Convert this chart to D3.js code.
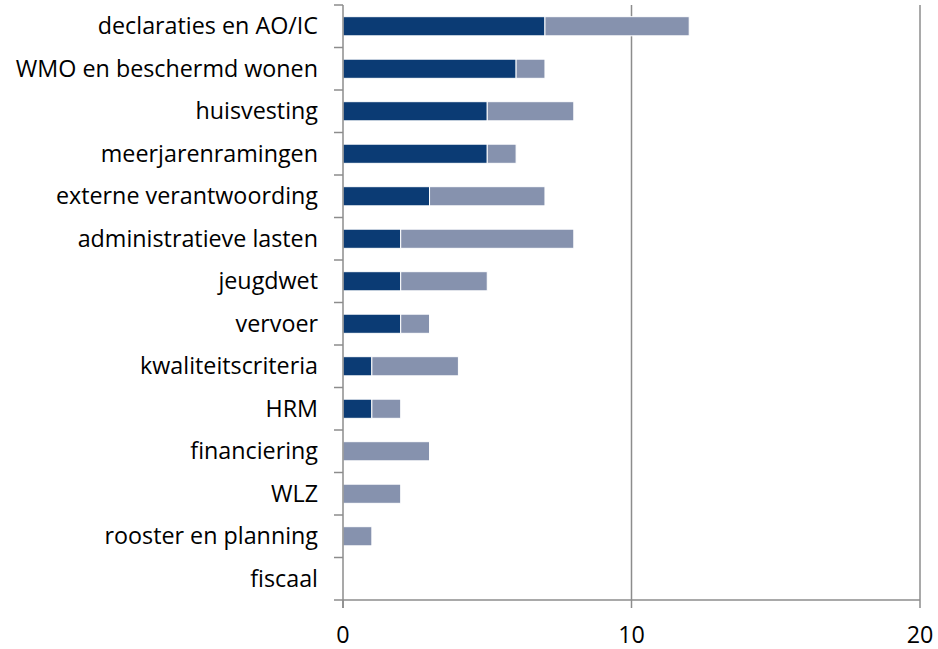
<!DOCTYPE html>
<html><head><meta charset="utf-8">
<script src="https://cdn.jsdelivr.net/npm/d3@7"></script>
<style>body{margin:0;background:#fff}svg{display:block}text{font-variant-ligatures:none}</style>
</head><body>
<svg id="c" width="938" height="649"></svg>
<script>
const categories = ["declaraties en AO/IC","WMO en beschermd wonen","huisvesting","meerjarenramingen","externe verantwoording","administratieve lasten","jeugdwet","vervoer","kwaliteitscriteria","HRM","financiering","WLZ","rooster en planning","fiscaal"];
const seriesDark = [7,6,5,5,3,2,2,2,1,1,0,0,0,0];
const seriesLight = [5,1,3,1,4,6,3,1,3,1,3,2,1,0];
const xTicks = [0,10,20];

const svg = d3.select("#c");
const font = "'Open Sans', sans-serif";
const fs = 23.3;
const pL = 343, pR = 920, pT = 5, pB = 600;
const x = d3.scaleLinear().domain([0,20]).range([pL,pR]);
const y = d3.scaleBand().domain(categories).range([pT,pB]).paddingInner(0.55).paddingOuter(0.275);
const grey = "#8c8c8c";

// gridlines
svg.append("g").selectAll("line").data(xTicks.filter(d=>d>0)).join("line")
  .attr("x1",d=>x(d)).attr("x2",d=>x(d)).attr("y1",pT).attr("y2",pB)
  .attr("stroke",grey).attr("stroke-width",1.5);

// bars
const data = categories.map((c,i)=>({c, a:seriesDark[i], b:seriesLight[i]}));
const g = svg.append("g");
g.selectAll("rect.dark").data(data.filter(d=>d.a>0)).join("rect")
  .attr("x",x(0)).attr("y",d=>y(d.c)).attr("width",d=>x(d.a)-x(0)).attr("height",y.bandwidth())
  .attr("fill","#0b3b74").attr("stroke","#fff").attr("stroke-width",1);
g.selectAll("rect.light").data(data.filter(d=>d.b>0)).join("rect")
  .attr("x",d=>x(d.a)).attr("y",d=>y(d.c)).attr("width",d=>x(d.a+d.b)-x(d.a)).attr("height",y.bandwidth())
  .attr("fill","#8692ae").attr("stroke","#fff").attr("stroke-width",1);

// y axis
const step = y.step();
const yb = d3.range(categories.length+1).map(i=>pT+i*step);
svg.append("line").attr("x1",pL).attr("x2",pL).attr("y1",pT).attr("y2",pB+8)
  .attr("stroke",grey).attr("stroke-width",1.5);
svg.append("g").selectAll("line").data(yb).join("line")
  .attr("x1",pL-9).attr("x2",pL).attr("y1",d=>d).attr("y2",d=>d)
  .attr("stroke",grey).attr("stroke-width",1.5);
svg.append("g").selectAll("text").data(categories).join("text")
  .attr("x",318).attr("y",d=>y(d)+y.bandwidth()/2).attr("dy","0.35em")
  .attr("text-anchor","end").attr("font-family",font).attr("font-size",fs).attr("fill","#000")
  .text(d=>d);

// x axis
svg.append("line").attr("x1",pL).attr("x2",pR).attr("y1",pB).attr("y2",pB)
  .attr("stroke",grey).attr("stroke-width",1.5);
svg.append("g").selectAll("line").data(xTicks).join("line")
  .attr("x1",d=>x(d)).attr("x2",d=>x(d)).attr("y1",pB).attr("y2",pB+8)
  .attr("stroke",grey).attr("stroke-width",1.5);
svg.append("g").selectAll("text").data(xTicks).join("text")
  .attr("x",d=>x(d)).attr("y",635).attr("dy","0.35em").attr("text-anchor","middle")
  .attr("font-family",font).attr("font-size",fs).attr("fill","#000").text(d=>d);
</script>
</body></html>
